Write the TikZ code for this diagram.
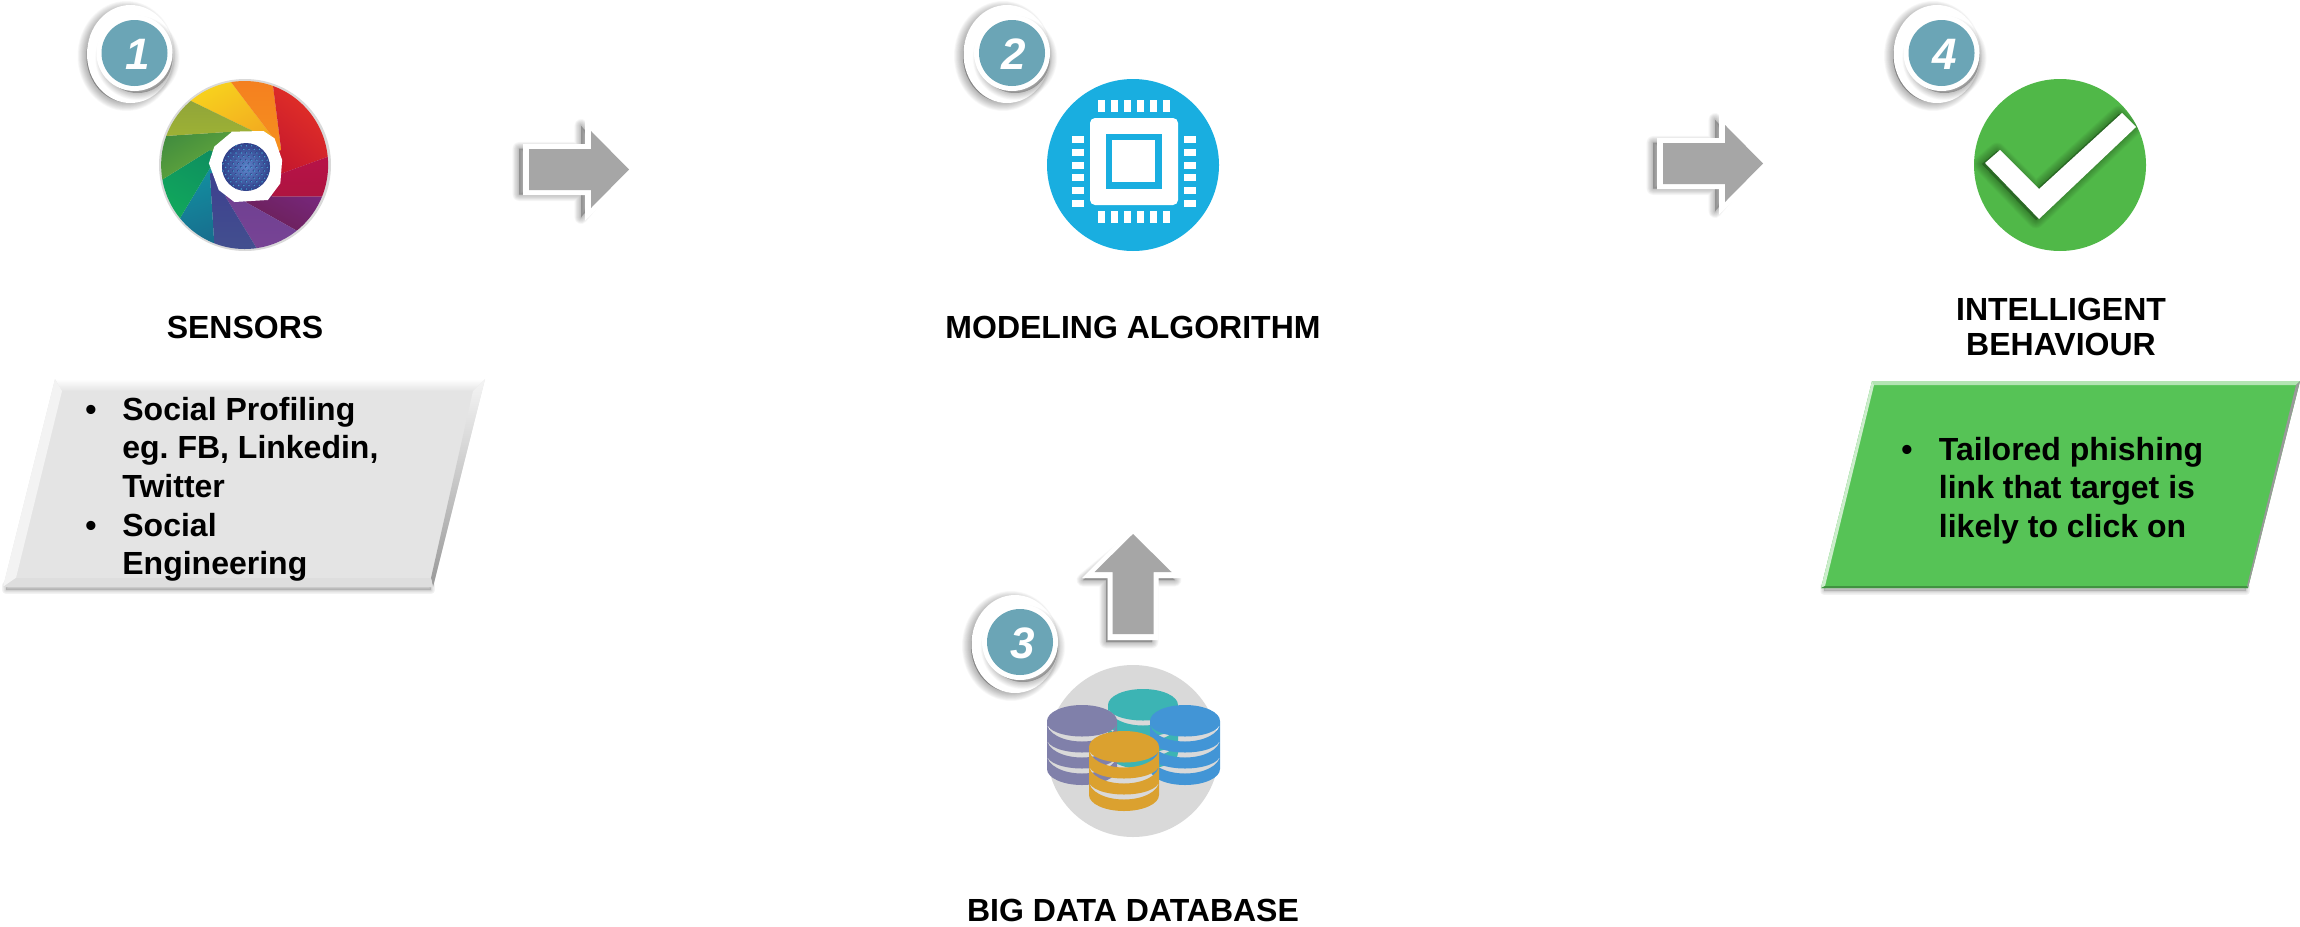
\documentclass[tikz,border=0pt]{standalone}
\usepackage{fontspec}
\setmainfont{Liberation Sans}
\usetikzlibrary{calc}
\definecolor{badgeteal}{HTML}{6BA5B6}
\definecolor{arrowgrey}{HTML}{A6A6A6}
\definecolor{chipblue}{HTML}{19AEE0}
\definecolor{okgreen}{HTML}{50B848}
\definecolor{boxgrey}{HTML}{E4E4E4}
\definecolor{boxgreen}{HTML}{56C356}
\definecolor{dbgrey}{HTML}{D9D9D9}
\definecolor{ballin}{HTML}{5F86CC}
\definecolor{ballout}{HTML}{2F3F88}
\frenchspacing
\tikzset{
  titletext/.style={font=\bfseries\fontsize{16}{17.5}\selectfont,text=black,inner sep=0pt,align=center},
  listtext/.style={font=\bfseries\fontsize{16}{19.35}\selectfont,text=black,inner sep=0pt,align=left},
  bulletmark/.style={font=\bfseries\fontsize{16}{19.35}\selectfont,text=black,inner sep=0pt},
  digit/.style={font=\bfseries\itshape\fontsize{22}{22}\selectfont,text=white,inner sep=0pt},
  pin/.style={fill=white,draw=none},
}
% soft shadow: [opacity per layer], colour, step of widening, path
\newcommand\softpath[4][.03]{%
  \foreach \w in {1,...,12}{\path[fill=#2,draw=#2,fill opacity=#1,draw opacity=#1,line join=round,line width=\w*#3 pt] #4;}}
% numbered badge: name, outer x, outer y, disc x, disc y, digit, digit x
\newcommand\badge[7]{%
  \softpath[.028]{black}{.75}{(#2-4,#3+2) ellipse [x radius=40,y radius=46]}
  \fill[white] (#2,#3) ellipse [x radius=43.5,y radius=49];
  \softpath[.018]{black}{.6}{(#4+3,#5+5) circle [radius=35]}
  \fill[white] (#4,#5) circle [radius=38];
  \fill[badgeteal] (#4,#5) circle [radius=33];
  \node[digit] (#1) at (#7,#5+1) {#6};
}
% block arrow: tail x, tail y, rotation
\newcommand\blockarrow[3]{%
  \begin{scope}[shift={(#1-4,#2+2)},rotate=#3]
    \softpath[.025]{black}{.55}{(-6,-23) -- (56,-23) -- (56,-46) -- (94,0) -- (56,46) -- (56,23) -- (-6,23) -- cycle}
  \end{scope}
  \begin{scope}[shift={(#1,#2)},rotate=#3]
    \fill[white] (-6,-25.5) -- (56,-25.5) -- (56,-51) -- (107,0) -- (56,51) -- (56,25.5) -- (-6,25.5) -- cycle;
    \fill[arrowgrey] (0,-20.5) -- (62,-20.5) -- (62,-38.5) -- (100,0) -- (62,38.5) -- (62,20.5) -- (0,20.5) -- cycle;
  \end{scope}
}
% database stack with see-through gaps: centre x, top y, colour
\newcommand\dbstack[3]{%
  \definecolor{stackcol}{HTML}{#3}%
  \fill[stackcol,even odd rule]
    (#1-35,#2) arc[start angle=180,end angle=360,x radius=35,y radius=16]
    -- (#1+35,#2+48) arc[start angle=0,end angle=180,x radius=35,y radius=16] -- cycle
    (#1-35,#2+2) arc[start angle=180,end angle=0,x radius=35,y radius=18.5]
       arc[start angle=0,end angle=180,x radius=35,y radius=13.5] -- cycle
    (#1-35,#2+18) arc[start angle=180,end angle=0,x radius=35,y radius=18.5]
       arc[start angle=0,end angle=180,x radius=35,y radius=13.5] -- cycle
    (#1-35,#2+34) arc[start angle=180,end angle=0,x radius=35,y radius=18.5]
       arc[start angle=0,end angle=180,x radius=35,y radius=13.5] -- cycle;
}
% colour wheel blade
\newcommand\blade[7]{%
  \definecolor{bladeA}{HTML}{#5}\definecolor{bladeB}{HTML}{#6}%
  \shade[top color=bladeA,bottom color=bladeB,shading angle=#7]
    #1 -- ($#1!1.45!#2$) -- ($#4!1.45!#3$) -- #4 -- (W) -- cycle;
}
\begin{document}
\begin{tikzpicture}[x=.5pt,y=-.5pt]
\useasboundingbox (0,0) rectangle (2300,926);

% ---------- colour wheel ----------
\fill[dbgrey] (245,165) circle [radius=86];
\begin{scope}[x=.22321pt,y=-.16667pt]
  \coordinate (W) at (549,499);
  \begin{scope}
    \clip (548,495) ellipse [x radius=187,y radius=252];
    \blade{(565,392)}{(428,303)}{(518,247)}{(610,410)}{F9E11E}{F2A31F}{30}
    \blade{(610,410)}{(518,247)}{(612,262)}{(630,450)}{F47B20}{F6931E}{0}
    \blade{(630,450)}{(612,262)}{(735,470)}{(632,520)}{EE3A24}{C3162E}{-40}
    \blade{(632,520)}{(735,470)}{(722,590)}{(610,590)}{B9124A}{AE1440}{0}
    \blade{(610,590)}{(722,590)}{(662,690)}{(550,606)}{7C2A8C}{6A1F52}{-30}
    \blade{(550,606)}{(662,690)}{(575,745)}{(505,590)}{6C3E90}{7A4596}{0}
    \blade{(505,590)}{(575,745)}{(480,733)}{(470,520)}{3D3F8F}{44548F}{0}
    \blade{(470,520)}{(480,733)}{(403,655)}{(470,505)}{128FA0}{1A5F86}{20}
    \blade{(470,505)}{(403,655)}{(362,540)}{(470,450)}{0E8E60}{12B05A}{-30}
    \blade{(470,450)}{(362,540)}{(370,408)}{(520,395)}{3E8A3E}{72B23C}{30}
    \blade{(520,395)}{(370,408)}{(428,303)}{(565,392)}{8CA03A}{A8BC32}{0}
  \end{scope}
  \fill[white] (468,490) -- (480,440) -- (520,395) -- (590,393) -- (615,415) -- (632,480) -- (628,550) -- (600,600) -- (525,606) -- (490,570) -- cycle;
\end{scope}
\begin{scope}
  \clip (246,167) ellipse [x radius=24,y radius=24];
  \shade[inner color=ballin,outer color=ballout] (246,167) circle [radius=25];
  \foreach \i in {-6,...,6}{\foreach \j in {-7,...,7}{
    \pgfmathsetmacro\dx{\i*5.2+mod(abs(\j),2)*2.6}
    \pgfmathsetmacro\dy{\j*3.6}
    \fill[ballout] (246+\dx,167+\dy) circle [radius=1.2];
    \fill[cyan!50!ballin] (246+\dx+.4,167+\dy+.4) circle [radius=.8];
  }}
\end{scope}

% ---------- chip ----------
\fill[chipblue] (1133,165) circle [radius=86];
\fill[white,rounded corners=2.5pt] (1090,118) rectangle (1178,205);
\fill[chipblue] (1106,134) rectangle (1162,189);
\fill[white] (1112,140) rectangle (1155,182);
\foreach \k in {0,...,5}{
  \fill[pin] (1098+13*\k,100) rectangle +(7,12);
  \fill[pin] (1098+13*\k,211) rectangle +(7,12);
  \fill[pin] (1072,136+12.8*\k) rectangle +(12,7);
  \fill[pin] (1184,136+12.8*\k) rectangle +(12,7);
}

% ---------- check ----------
\fill[okgreen] (2060,165) circle [radius=86];
\begin{scope}
  \clip (2060,165) circle [radius=86];
  \begin{scope}[shift={(-3,1)}]
    \softpath[.035]{black!70!okgreen}{.7}{(2122,113) -- (2136,127) -- (2039,219) -- (1985,163) -- (2000,150) -- (2039,189) -- cycle}
  \end{scope}
\end{scope}
\fill[white] (2122,113) -- (2136,127) -- (2039,219) -- (1985,163) -- (2000,150) -- (2039,189) -- cycle;

% ---------- database ----------
\fill[dbgrey] (1133,751) circle [radius=86];
\dbstack{1143}{705}{3CB4B4}
\dbstack{1082}{721}{8080AA}
\dbstack{1185}{721}{4295D6}
\dbstack{1124}{747}{DBA12F}

% ---------- block arrows ----------
\blockarrow{529}{169.5}{0}
\blockarrow{1663}{163.5}{0}
\blockarrow{1133}{634}{90}

% ---------- badges ----------
\badge{one}{130.5}{54}{134.5}{53}{1}{138}
\badge{two}{1007}{54}{1012}{53}{2}{1014}
\badge{three}{1015}{644}{1020}{642}{3}{1023}
\badge{four}{1937}{54}{1941.5}{53}{4}{1945}

% ---------- left box ----------
\softpath[.022]{black!70}{.35}{(6,590) -- (431,590) -- (431,585) -- (6,585) -- cycle}
\fill[boxgrey] (55,379) -- (485,379) -- (433,587) -- (3,587) -- cycle;
\shade[top color=white,bottom color=boxgrey] (55,379) -- (485,379) -- (473,391) -- (62,391) -- cycle;
\fill[white!55!boxgrey] (55,379) -- (62,391) -- (16,578) -- (3,587) -- cycle;
\shade[top color=white!60!boxgrey,bottom color=black!40] (485,379) -- (473,391) -- (431,578) -- (433,587) -- cycle;
\fill[black!13] (3,587) -- (16,578) -- (431,578) -- (433,587) -- cycle;

% ---------- right box ----------
\softpath[.022]{black!70}{.35}{(1824,591) -- (2246,591) -- (2246,586) -- (1824,586) -- cycle}
\fill[boxgreen] (1872,381) -- (2300,381) -- (2248,588) -- (1821,588) -- cycle;
\fill[white!55!boxgreen] (1872,381) -- (2300,381) -- (2296,385) -- (1874,385) -- cycle;
\fill[white!70!boxgreen] (1872,381) -- (1874,385) -- (1825,586) -- (1821,588) -- cycle;
\fill[black!40] (2300,381) -- (2296,385) -- (2247,586) -- (2248,588) -- cycle;
\fill[black!25!boxgreen] (1821,588) -- (1825,586) -- (2247,586) -- (2248,588) -- cycle;

% ---------- texts ----------
\node[titletext,anchor=base] (sensors) at (245,338) {SENSORS};
\node[titletext,anchor=base] (modeling) at (1133,338) {MODELING ALGORITHM};
\node[titletext,anchor=base] (bigdata) at (1133,921) {BIG DATA DATABASE};
\node[titletext,anchor=south] (intelligent) at (2061,356.5) {INTELLIGENT\\BEHAVIOUR};

\node[bulletmark,anchor=base] (bulletA) at (91,420) {•};
\node[bulletmark,anchor=base] (bulletB) at (91,536) {•};
\node[listtext,anchor=north west] (listA) at (122,396.5) {Social Profiling\\eg. FB, Linkedin,\\Twitter\\Social\\Engineering};
\node[bulletmark,anchor=base] (bulletC) at (1907,460) {•};
\node[listtext,anchor=north west] (listB) at (1938.5,436.5) {Tailored phishing\\link that target is\\likely to click on};
\end{tikzpicture}
\end{document}
